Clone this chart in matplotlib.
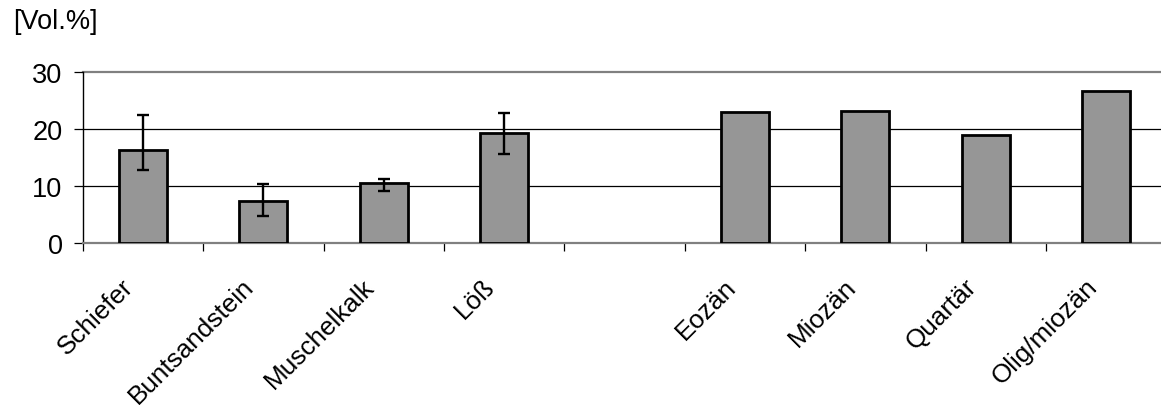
import matplotlib
matplotlib.use("Agg")
import matplotlib.pyplot as plt
import matplotlib.transforms as mtransforms
import numpy as np

# data
categories = ["Schiefer", "Buntsandstein", "Muschelkalk", "Löß", "",
              "Eozän", "Miozän", "Quartär", "Olig/miozän"]
values = [16.35, 7.45, 10.6, 19.35, np.nan, 23.1, 23.2, 18.95, 26.75]
err_lower = [3.45, 2.6, 1.45, 3.6, 0, 0, 0, 0, 0]
err_upper = [6.1, 3.0, 0.75, 3.55, 0, 0, 0, 0, 0]
has_err = [True, True, True, True, False, False, False, False, False]
yticks = [0, 10, 20, 30]
unit_label = "[Vol.%]"

plt.rcParams['font.family'] = ['Liberation Sans', 'DejaVu Sans']

fig = plt.figure(figsize=(11.61, 4.06), dpi=100)
ax = fig.add_axes([0.0712, 0.3978, 0.9335, 0.4217])

x = np.arange(len(categories))
ax.bar(x, values, width=0.4, color='#969696', edgecolor='black',
       linewidth=2, zorder=3)

ex = x[has_err]
ev = np.array(values)[has_err]
elo = np.array(err_lower)[has_err]
ehi = np.array(err_upper)[has_err]
ax.errorbar(ex, ev, yerr=[elo, ehi], fmt='none', ecolor='black',
            elinewidth=1.7, capsize=4.5, capthick=1.7, zorder=4)

ax.set_xlim(-0.5, len(categories) - 0.5)
ax.set_ylim(0, 30)

# gridlines at 10 and 20, grey border line at 30
for v in yticks[1:-1]:
    ax.axhline(v, color='black', linewidth=0.9, zorder=1)
ax.axhline(30, color='#808080', linewidth=1.6, zorder=1, clip_on=False)

ax.spines['top'].set_visible(False)
ax.spines['right'].set_visible(False)
ax.spines['left'].set_color('black')
ax.spines['left'].set_linewidth(1.0)
ax.spines['bottom'].set_color('#808080')
ax.spines['bottom'].set_linewidth(1.6)

ax.set_yticks(yticks)
ax.tick_params(axis='y', direction='out', length=6.5, width=0.9,
               pad=8, labelsize=19.5)

# category boundaries get the tick marks, centres get the labels
ax.set_xticks(np.arange(-0.5, len(categories) - 0.5, 1.0))
ax.set_xticklabels([])
ax.tick_params(axis='x', which='major', direction='out', length=6,
               width=0.9)
ax.set_xticks(x, minor=True)
ax.set_xticklabels(categories, minor=True, rotation=45, ha='right',
                   va='center', rotation_mode='anchor', fontsize=18.8)
ax.tick_params(axis='x', which='minor', length=0, pad=28)
shift = mtransforms.ScaledTranslation(-13 / 100, 0, fig.dpi_scale_trans)
for lab in ax.get_xticklabels(minor=True):
    lab.set_transform(lab.get_transform() + shift)

fig.text(13 / 1161, 1 - 9 / 406, unit_label, fontsize=19.5,
         ha='left', va='top')

fig.savefig("out.png", dpi=100)
